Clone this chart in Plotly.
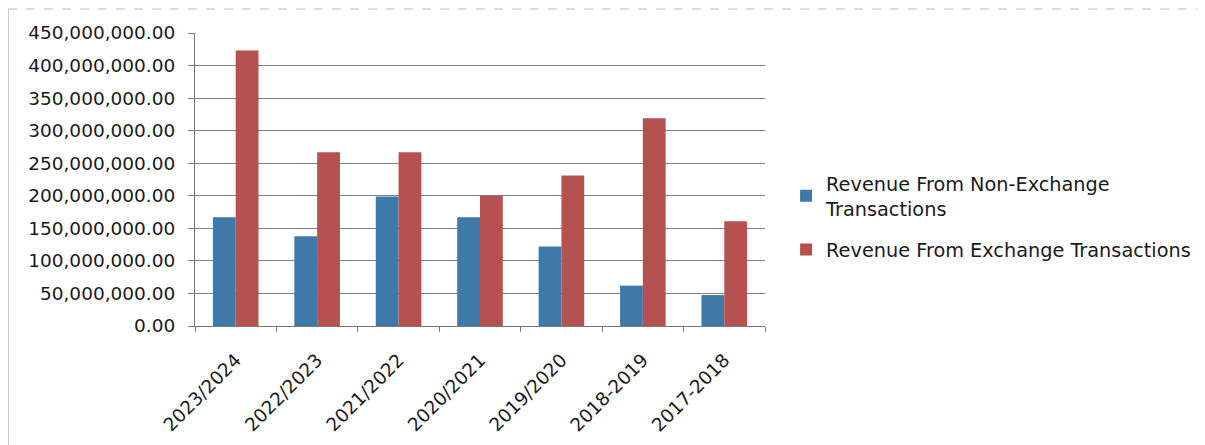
import plotly.graph_objects as go

categories = ["2023/2024", "2022/2023", "2021/2022", "2020/2021", "2019/2020", "2018-2019", "2017-2018"]
non_exchange = [167_000_000, 138_000_000, 199_000_000, 167_000_000, 122_000_000, 62_000_000, 47_500_000]
exchange = [423_000_000, 267_000_000, 267_000_000, 200_000_000, 231_000_000, 319_000_000, 161_000_000]
series_names = ["Revenue From Non-Exchange<br>Transactions", "Revenue From Exchange Transactions"]
y_ticks = [0, 50_000_000, 100_000_000, 150_000_000, 200_000_000, 250_000_000,
           300_000_000, 350_000_000, 400_000_000, 450_000_000]
y_tick_text = [f"{v:,.2f}" for v in y_ticks]

W, H = 1205, 445
L, R, T, B = 187, 448, 25, 127
PW, PH = W - L - R, H - T - B
FONT = "'DejaVu Sans', sans-serif"

fig = go.Figure()
fig.add_trace(go.Bar(x=categories, y=non_exchange, name=series_names[0], legendgroup="g1",
                     marker=dict(color="#3f79aa", line=dict(width=0))))
fig.add_trace(go.Bar(x=categories, y=exchange, name=series_names[1], legendgroup="g2",
                     marker=dict(color="#b5514f", line=dict(width=0))))

fig.update_layout(
    width=W, height=H,
    margin=dict(l=L, r=R, t=T, b=B),
    paper_bgcolor="white", plot_bgcolor="white",
    barmode="group", bargap=0.44, bargroupgap=0.0,
    font=dict(family=FONT, color="#1a1a1a"),
    showlegend=True,
    legend=dict(x=1.037, xanchor="left", y=0.373, yanchor="middle",
                font=dict(size=19.3, family=FONT, color="#1a1a1a"),
                tracegroupgap=13, itemwidth=30, bgcolor="rgba(0,0,0,0)"),
    xaxis=dict(type="category", tickangle=-45, tickfont=dict(size=18.5, family=FONT),
               showline=True, linecolor="#777", linewidth=1,
               ticks="outside", tickson="boundaries", ticklen=5, tickcolor="#777",
               ticklabelstandoff=15, showgrid=False),
    yaxis=dict(range=[0, 450_000_000], tickvals=y_ticks, ticktext=y_tick_text,
               tickfont=dict(size=18.5, family=FONT),
               showline=True, linecolor="#777", linewidth=1,
               ticks="outside", ticklen=6, tickcolor="#777", ticklabelstandoff=9,
               showgrid=True, gridcolor="#808080", gridwidth=1, zeroline=False),
)

# chart frame (left edge and top edge of the embedded chart box)
x0 = (0 - L) / PW
x1 = (W - L) / PW
ytop = (H - B - 1) / PH
fig.add_shape(type="line", xref="paper", yref="paper", x0=x0, x1=x0, y0=-2, y1=ytop,
              line=dict(color="#999", width=1))
fig.add_shape(type="line", xref="paper", yref="paper", x0=x0, x1=x1, y0=ytop, y1=ytop,
              line=dict(color="#bbb", width=1, dash="dash"))

fig.write_html("out.html")
